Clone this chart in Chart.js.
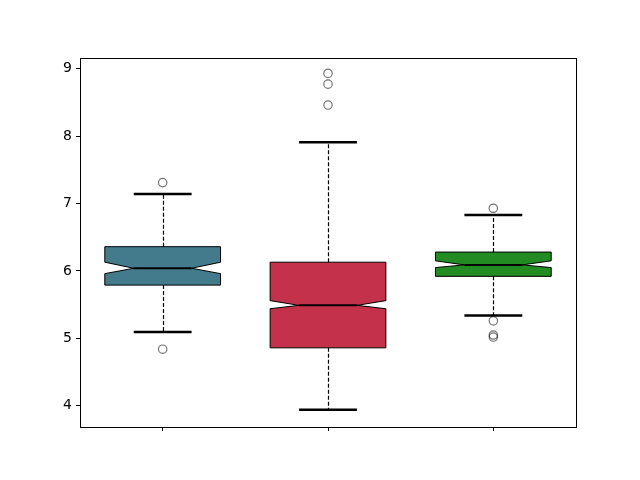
<!DOCTYPE html>
<html>
<head>
<meta charset="utf-8">
<script src="https://cdn.jsdelivr.net/npm/chart.js@4/dist/chart.umd.min.js"></script>
<style>
  body { margin: 0; background: #fff; }
  canvas { display: block; }
</style>
</head>
<body>
<canvas id="boxChart" width="640" height="480"></canvas>
<script>
// box positions and summary values
var positions = [1, 2, 3];
var whiskLo = [5.095, 3.94, 5.34];
var q1 = [5.79, 4.86, 5.92];
var notchLo = [5.96, 5.44, 6.05];
var medians = [6.04, 5.49, 6.09];
var notchHi = [6.13, 5.56, 6.15];
var q3 = [6.36, 6.13, 6.28];
var whiskHi = [7.14, 7.91, 6.83];
var outliers = [
    [7.31, 4.84],
    [8.93, 8.77, 8.46],
    [6.93, 5.26, 5.05, 5.02]
];
var boxColors = ['#447b8c', '#c3324a', '#228b22'];
var yTicks = [4, 5, 6, 7, 8, 9];

var boxWidth = 0.7;

var flierPoints = [];
outliers.forEach(function (list, i) {
    list.forEach(function (v) {
        flierPoints.push({x: positions[i], y: v});
    });
});

function line(ctx, x1, y1, x2, y2) {
    ctx.beginPath();
    ctx.moveTo(x1, y1);
    ctx.lineTo(x2, y2);
    ctx.stroke();
}

var boxPlugin = {
    id: 'notchedBoxes',
    beforeDatasetsDraw: function (chart) {
        var ctx = chart.ctx;
        var xs = chart.scales.x, ys = chart.scales.y;
        ctx.save();
        positions.forEach(function (p, i) {
            var cx = Math.round(xs.getPixelForValue(p)) + 0.5;
            var l = xs.getPixelForValue(p - boxWidth / 2);
            var r = xs.getPixelForValue(p + boxWidth / 2);
            var il = xs.getPixelForValue(p - boxWidth / 4);
            var ir = xs.getPixelForValue(p + boxWidth / 4);
            var yq1 = ys.getPixelForValue(q1[i]);
            var yq3 = ys.getPixelForValue(q3[i]);
            var ynl = ys.getPixelForValue(notchLo[i]);
            var ynh = ys.getPixelForValue(notchHi[i]);
            var ym = ys.getPixelForValue(medians[i]);
            var ywl = ys.getPixelForValue(whiskLo[i]);
            var ywh = ys.getPixelForValue(whiskHi[i]);

            // whiskers
            ctx.strokeStyle = '#000';
            ctx.lineWidth = 1.2;
            ctx.setLineDash([4, 2]);
            line(ctx, cx, yq1, cx, ywl);
            line(ctx, cx, yq3, cx, ywh);
            ctx.setLineDash([]);

            // caps
            ctx.lineWidth = 2.5;
            line(ctx, il, ywl, ir, ywl);
            line(ctx, il, ywh, ir, ywh);

            // notched box
            ctx.beginPath();
            ctx.moveTo(l, yq1);
            ctx.lineTo(r, yq1);
            ctx.lineTo(r, ynl);
            ctx.lineTo(ir, ym);
            ctx.lineTo(r, ynh);
            ctx.lineTo(r, yq3);
            ctx.lineTo(l, yq3);
            ctx.lineTo(l, ynh);
            ctx.lineTo(il, ym);
            ctx.lineTo(l, ynl);
            ctx.closePath();
            ctx.fillStyle = boxColors[i];
            ctx.fill();
            ctx.lineWidth = 1;
            ctx.stroke();

            // median
            ctx.lineWidth = 2;
            line(ctx, il, ym, ir, ym);
        });
        ctx.restore();
    },
    afterDraw: function (chart) {
        var a = chart.chartArea;
        var ctx = chart.ctx;
        ctx.save();
        ctx.strokeStyle = '#000';
        ctx.lineWidth = 1;
        ctx.strokeRect(Math.round(a.left) + 0.5, Math.round(a.top) + 0.5,
            Math.round(a.right - a.left), Math.round(a.bottom - a.top));
        ctx.restore();
    }
};

var ctxBox = document.getElementById('boxChart').getContext('2d');
var boxChart = new Chart(ctxBox, {
    type: 'scatter',
    data: {
        datasets: [{
            label: 'outliers',
            data: flierPoints,
            pointStyle: 'circle',
            pointRadius: 4.2,
            pointBorderWidth: 1.2,
            pointBorderColor: 'rgba(0,0,0,0.55)',
            pointBackgroundColor: 'rgba(0,0,0,0)'
        }]
    },
    options: {
        responsive: false,
        animation: false,
        layout: {padding: {left: 0, right: 64, top: 58, bottom: 0}},
        plugins: {legend: {display: false}, tooltip: {enabled: false}},
        scales: {
            x: {
                type: 'linear',
                min: 0.5,
                max: 3.5,
                afterBuildTicks: function (axis) {
                    axis.ticks = positions.map(function (v) { return {value: v}; });
                },
                afterFit: function (axis) { axis.height = 53; },
                grid: {drawOnChartArea: false, color: '#000', tickLength: 4, tickWidth: 1},
                border: {display: false},
                ticks: {callback: function () { return ''; }}
            },
            y: {
                min: 3.686,
                max: 9.158,
                afterBuildTicks: function (axis) {
                    axis.ticks = yTicks.map(function (v) { return {value: v}; });
                },
                afterFit: function (axis) { axis.width = 80; },
                grid: {drawOnChartArea: false, color: '#000', tickLength: 4, tickWidth: 1},
                border: {display: false},
                ticks: {
                    color: '#000',
                    padding: 4,
                    font: {family: 'DejaVu Sans', size: 14}
                }
            }
        }
    },
    plugins: [boxPlugin]
});
</script>
</body>
</html>
